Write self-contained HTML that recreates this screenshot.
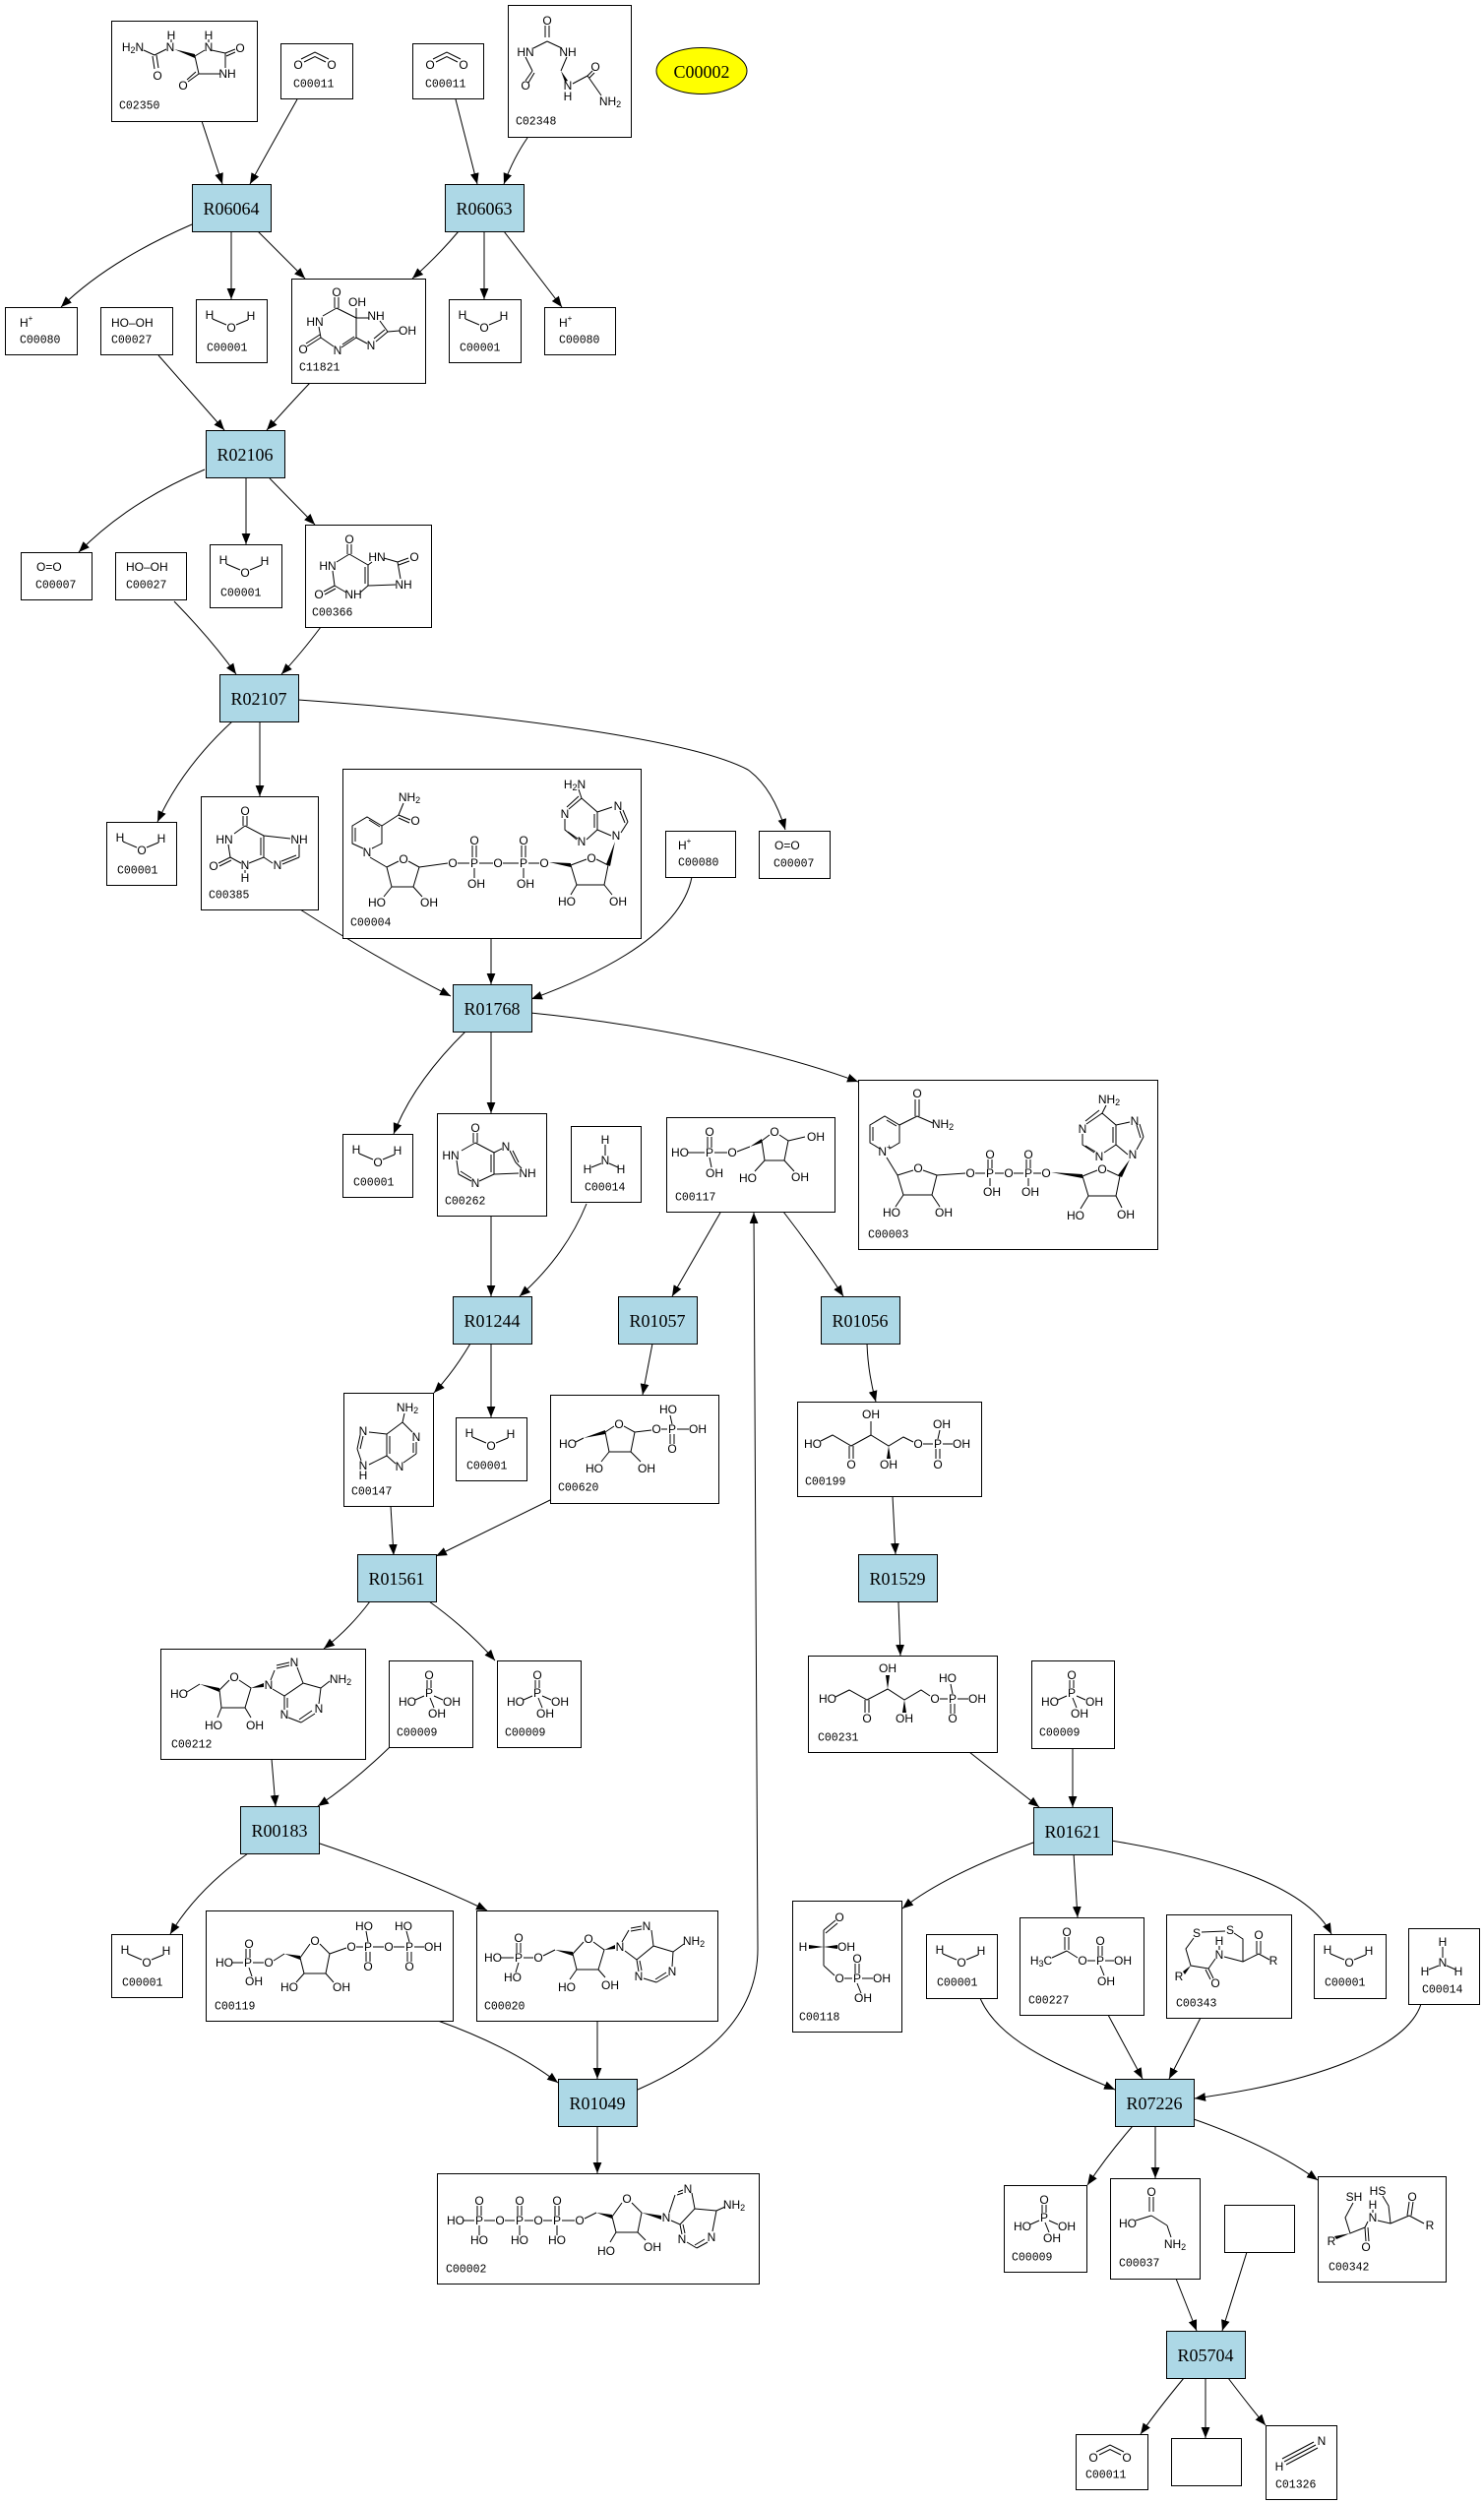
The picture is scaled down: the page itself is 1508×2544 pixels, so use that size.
<!DOCTYPE html>
<html><head><meta charset="utf-8"><style>
html,body{margin:0;padding:0;background:#fff}
svg{display:block}
text{font-family:"Liberation Sans",sans-serif;fill:#000}
.a{font-size:12px;text-anchor:middle;dominant-baseline:central}
.s{font-size:12px;text-anchor:start;dominant-baseline:central}
.l{font-family:"Liberation Mono",monospace;font-size:11.5px;dominant-baseline:central}
.r{font-family:"Liberation Serif",serif;font-size:18px;text-anchor:middle;dominant-baseline:central}
.b{fill:none;stroke:#000;stroke-width:1}
.bx{fill:#fff;stroke:#000;stroke-width:1}
.rx{fill:#add8e6;stroke:#000;stroke-width:1}
.e{fill:none;stroke:#000;stroke-width:1;marker-end:url(#ar)}
polygon{fill:#000}
</style></head><body>
<svg width="1508" height="2544" viewBox="0 0 1508 2544" xmlns="http://www.w3.org/2000/svg">
<defs><marker id="ar" viewBox="0 0 10 10" refX="10" refY="5" markerWidth="11" markerHeight="11" markerUnits="userSpaceOnUse" orient="auto"><path d="M0,1 L10,5 L0,9 z" fill="#000"/></marker></defs>
<rect width="1508" height="2544" fill="#fff"/>

<!-- EDGES -->
<path class="e" d="M205,123 L226,187"/>
<path class="e" d="M302,101 Q280,140 254,187"/>
<path class="e" d="M463,101 L485,187"/>
<path class="e" d="M536,140 Q522,160 512,187"/>
<path class="e" d="M195,228 Q110,265 62,312"/>
<path class="e" d="M235,235 L235,304"/>
<path class="e" d="M262,235 L310,283"/>
<path class="e" d="M466,235 Q445,260 419,283"/>
<path class="e" d="M492,235 L492,304"/>
<path class="e" d="M512,235 L571,312"/>
<path class="e" d="M161,361 Q200,405 228,437"/>
<path class="e" d="M315,389 Q295,410 271,437"/>
<path class="e" d="M208,477 Q130,510 80,561"/>
<path class="e" d="M250,486 L250,553"/>
<path class="e" d="M274,486 L320,533"/>
<path class="e" d="M177,611 Q215,650 240,685"/>
<path class="e" d="M326,637 Q305,665 286,685"/>
<path class="e" d="M236,733 Q185,780 160,835"/>
<path class="e" d="M264,733 L264,809"/>
<path class="e" d="M303,711 C500,725 700,750 760,782 Q785,800 798,843"/>
<path class="e" d="M305,924 Q385,975 458,1012"/>
<path class="e" d="M499,953 L499,1000"/>
<path class="e" d="M703,891 Q690,960 540,1015"/>
<path class="e" d="M473,1048 Q420,1100 400,1152"/>
<path class="e" d="M499,1048 L499,1131"/>
<path class="e" d="M539,1029 C650,1040 780,1065 872,1099"/>
<path class="e" d="M499,1235 L499,1317"/>
<path class="e" d="M596,1223 Q575,1275 528,1317"/>
<path class="e" d="M732,1232 L683,1317"/>
<path class="e" d="M796,1231 Q830,1275 857,1317"/>
<path class="e" d="M648,2123 C700,2100 770,2060 770,1980 L766,1232"/>
<path class="e" d="M478,1365 Q460,1395 441,1415"/>
<path class="e" d="M499,1365 L499,1440"/>
<path class="e" d="M663,1365 L653,1417"/>
<path class="e" d="M397,1530 L400,1580"/>
<path class="e" d="M559,1524 L443,1581"/>
<path class="e" d="M881,1365 Q882,1395 890,1424"/>
<path class="e" d="M907,1520 L910,1579"/>
<path class="e" d="M913,1628 L915,1682"/>
<path class="e" d="M985,1780 L1056,1836"/>
<path class="e" d="M1090,1776 L1090,1836"/>
<path class="e" d="M376,1627 Q355,1655 329,1675"/>
<path class="e" d="M436,1627 Q475,1655 503,1687"/>
<path class="e" d="M276,1787 L280,1835"/>
<path class="e" d="M396,1775 Q360,1810 323,1835"/>
<path class="e" d="M252,1883 Q200,1920 173,1965"/>
<path class="e" d="M325,1873 Q420,1905 495,1941"/>
<path class="e" d="M445,2053 Q520,2080 567,2116"/>
<path class="e" d="M607,2053 L607,2112"/>
<path class="e" d="M607,2160 L607,2208"/>
<path class="e" d="M1050,1872 Q960,1905 917,1939"/>
<path class="e" d="M1091,1883 L1095,1948"/>
<path class="e" d="M1129,1870 C1250,1890 1330,1920 1353,1965"/>
<path class="e" d="M996,2030 C1015,2075 1080,2100 1133,2123"/>
<path class="e" d="M1126,2047 L1161,2112"/>
<path class="e" d="M1220,2050 L1188,2112"/>
<path class="e" d="M1444,2036 C1430,2080 1340,2115 1214,2132"/>
<path class="e" d="M1151,2160 Q1125,2190 1105,2220"/>
<path class="e" d="M1174,2160 L1174,2213"/>
<path class="e" d="M1213,2153 Q1290,2180 1339,2215"/>
<path class="e" d="M1195,2315 L1216,2368"/>
<path class="e" d="M1267,2288 L1242,2368"/>
<path class="e" d="M1203,2416 Q1175,2450 1159,2473"/>
<path class="e" d="M1225,2416 L1225,2477"/>
<path class="e" d="M1248,2416 Q1270,2445 1286,2464"/>

<!-- REACTIONS -->
<g transform="translate(195,187)"><rect class="rx" x="0.5" y="0.5" width="80" height="48"/><text class="r" x="40" y="25">R06064</text></g>
<g transform="translate(452,187)"><rect class="rx" x="0.5" y="0.5" width="80" height="48"/><text class="r" x="40" y="25">R06063</text></g>
<g transform="translate(209,437)"><rect class="rx" x="0.5" y="0.5" width="80" height="48"/><text class="r" x="40" y="25">R02106</text></g>
<g transform="translate(223,685)"><rect class="rx" x="0.5" y="0.5" width="80" height="48"/><text class="r" x="40" y="25">R02107</text></g>
<g transform="translate(460,1000)"><rect class="rx" x="0.5" y="0.5" width="80" height="48"/><text class="r" x="40" y="25">R01768</text></g>
<g transform="translate(460,1317)"><rect class="rx" x="0.5" y="0.5" width="80" height="48"/><text class="r" x="40" y="25">R01244</text></g>
<g transform="translate(628,1317)"><rect class="rx" x="0.5" y="0.5" width="80" height="48"/><text class="r" x="40" y="25">R01057</text></g>
<g transform="translate(834,1317)"><rect class="rx" x="0.5" y="0.5" width="80" height="48"/><text class="r" x="40" y="25">R01056</text></g>
<g transform="translate(363,1579)"><rect class="rx" x="0.5" y="0.5" width="80" height="48"/><text class="r" x="40" y="25">R01561</text></g>
<g transform="translate(872,1579)"><rect class="rx" x="0.5" y="0.5" width="80" height="48"/><text class="r" x="40" y="25">R01529</text></g>
<g transform="translate(244,1835)"><rect class="rx" x="0.5" y="0.5" width="80" height="48"/><text class="r" x="40" y="25">R00183</text></g>
<g transform="translate(1050,1836)"><rect class="rx" x="0.5" y="0.5" width="80" height="48"/><text class="r" x="40" y="25">R01621</text></g>
<g transform="translate(567,2112)"><rect class="rx" x="0.5" y="0.5" width="80" height="48"/><text class="r" x="40" y="25">R01049</text></g>
<g transform="translate(1133,2112)"><rect class="rx" x="0.5" y="0.5" width="80" height="48"/><text class="r" x="40" y="25">R07226</text></g>
<g transform="translate(1185,2368)"><rect class="rx" x="0.5" y="0.5" width="80" height="48"/><text class="r" x="40" y="25">R05704</text></g>

<ellipse cx="713" cy="72" rx="46" ry="23.5" fill="#ffff00" stroke="#000" stroke-width="1"/>
<text class="r" x="713" y="73">C00002</text>

<!-- C02350 -->
<g transform="translate(113,21)"><rect class="bx" x="0.5" y="0.5" width="148" height="102"/>
<text class="a" x="22" y="27">H<tspan font-size="9" dy="3">2</tspan><tspan dy="-3">N</tspan></text>
<text class="a" x="47" y="56">O</text><text class="a" x="60" y="27">N</text><text class="a" x="61" y="15">H</text>
<text class="a" x="99" y="27">N</text><text class="a" x="99" y="15">H</text><text class="a" x="131" y="28">O</text>
<text class="a" x="118" y="54">NH</text><text class="a" x="73" y="66">O</text>
<path class="b" d="M33,30L44,35 M44,35L56,29 M42,36L44,49 M46,35L48,48 M102,30L116,33 M85,36L95,30 M116,33L126,29 M117,36L126,32 M116,33L116,48 M111,54L89,54 M89,54L85,36 M89,54L78,62 M86,52L77,60 M61,19L61,22 M99,19L99,22"/>
<polygon points="64,29 85,34 85,38"/>
<text class="l" x="8" y="87">C02350</text></g>

<!-- C00011 a,b,c -->
<g transform="translate(285,44)"><rect class="bx" x="0.5" y="0.5" width="73" height="56"/>
<text class="a" x="18" y="22">O</text><text class="a" x="52" y="22">O</text>
<path class="b" d="M21,16L35,9L49,16 M24,19L35,13.5L46,19"/>
<text class="l" x="13" y="42">C00011</text></g>
<g transform="translate(419,44)"><rect class="bx" x="0.5" y="0.5" width="72" height="56"/>
<text class="a" x="18" y="22">O</text><text class="a" x="52" y="22">O</text>
<path class="b" d="M21,16L35,9L49,16 M24,19L35,13.5L46,19"/>
<text class="l" x="13" y="42">C00011</text></g>
<g transform="translate(1093,2473)"><rect class="bx" x="0.5" y="0.5" width="73" height="56"/>
<text class="a" x="18" y="24">O</text><text class="a" x="52" y="24">O</text>
<path class="b" d="M21,18L35,11L49,18 M24,21L35,15.5L46,21"/>
<text class="l" x="10" y="42">C00011</text></g>

<!-- C02348 -->
<g transform="translate(516,5)"><rect class="bx" x="0.5" y="0.5" width="125" height="134"/>
<text class="a" x="40" y="16">O</text><text class="a" x="18" y="48">HN</text><text class="a" x="61" y="48">NH</text>
<text class="a" x="18" y="82">O</text><text class="a" x="61" y="82">N</text><text class="a" x="61" y="93">H</text>
<text class="a" x="89" y="63">O</text><text class="a" x="104" y="98">NH<tspan font-size="9" dy="3">2</tspan></text>
<path class="b" d="M38,21L38,33 M42,21L42,33 M40,37L26,44 M40,37L55,44 M18,53L25,67 M25,67L18,77 M27,69L21,79 M60,53L54,67 M66,80L81,72 M81,72L86,67 M83,74L88,69 M81,72L95,92"/>
<polygon points="54,67 58,78 61,77"/>
<text class="l" x="8" y="119">C02348</text></g>

<!-- H+ boxes -->
<g transform="translate(5,312)"><rect class="bx" x="0.5" y="0.5" width="73" height="48"/>
<text class="s" x="15" y="16">H<tspan font-size="8" dy="-5">+</tspan></text><text class="l" x="15" y="34">C00080</text></g>
<g transform="translate(553,312)"><rect class="bx" x="0.5" y="0.5" width="72" height="48"/>
<text class="s" x="15" y="16">H<tspan font-size="8" dy="-5">+</tspan></text><text class="l" x="15" y="34">C00080</text></g>
<g transform="translate(676,844)"><rect class="bx" x="0.5" y="0.5" width="71" height="47"/>
<text class="s" x="13" y="15">H<tspan font-size="8" dy="-5">+</tspan></text><text class="l" x="13" y="33">C00080</text></g>

<!-- HO-OH -->
<g transform="translate(102,312)"><rect class="bx" x="0.5" y="0.5" width="73" height="48"/>
<text class="s" x="11" y="16">HO–OH</text><text class="l" x="11" y="34">C00027</text></g>
<g transform="translate(117,561)"><rect class="bx" x="0.5" y="0.5" width="72" height="48"/>
<text class="s" x="11" y="15">HO–OH</text><text class="l" x="11" y="34">C00027</text></g>

<!-- O=O -->
<g transform="translate(21,561)"><rect class="bx" x="0.5" y="0.5" width="72" height="48"/>
<text class="s" x="16" y="15">O=O</text><text class="l" x="15" y="34">C00007</text></g>
<g transform="translate(771,844)"><rect class="bx" x="0.5" y="0.5" width="72" height="48"/>
<text class="s" x="16" y="15">O=O</text><text class="l" x="15" y="34">C00007</text></g>

<!-- Water boxes -->
<g transform="translate(199,304)"><rect class="bx" x="0.5" y="0.5" width="72" height="64"/><text class="a" x="14" y="16">H</text><text class="a" x="36" y="29">O</text><text class="a" x="56" y="17">H</text><path class="b" d="M17,20L31,26 M41,26L53,21"/><text class="l" x="11" y="50">C00001</text></g>
<g transform="translate(456,304)"><rect class="bx" x="0.5" y="0.5" width="73" height="64"/><text class="a" x="14" y="16">H</text><text class="a" x="36" y="29">O</text><text class="a" x="56" y="17">H</text><path class="b" d="M17,20L31,26 M41,26L53,21"/><text class="l" x="11" y="50">C00001</text></g>
<g transform="translate(213,553)"><rect class="bx" x="0.5" y="0.5" width="73" height="64"/><text class="a" x="14" y="16">H</text><text class="a" x="36" y="29">O</text><text class="a" x="56" y="17">H</text><path class="b" d="M17,20L31,26 M41,26L53,21"/><text class="l" x="11" y="50">C00001</text></g>
<g transform="translate(108,835)"><rect class="bx" x="0.5" y="0.5" width="71" height="64"/><text class="a" x="14" y="16">H</text><text class="a" x="36" y="29">O</text><text class="a" x="56" y="17">H</text><path class="b" d="M17,20L31,26 M41,26L53,21"/><text class="l" x="11" y="50">C00001</text></g>
<g transform="translate(348,1152)"><rect class="bx" x="0.5" y="0.5" width="71" height="64"/><text class="a" x="14" y="16">H</text><text class="a" x="36" y="29">O</text><text class="a" x="56" y="17">H</text><path class="b" d="M17,20L31,26 M41,26L53,21"/><text class="l" x="11" y="50">C00001</text></g>
<g transform="translate(463,1440)"><rect class="bx" x="0.5" y="0.5" width="72" height="64"/><text class="a" x="14" y="16">H</text><text class="a" x="36" y="29">O</text><text class="a" x="56" y="17">H</text><path class="b" d="M17,20L31,26 M41,26L53,21"/><text class="l" x="11" y="50">C00001</text></g>
<g transform="translate(113,1965)"><rect class="bx" x="0.5" y="0.5" width="72" height="64"/><text class="a" x="14" y="16">H</text><text class="a" x="36" y="29">O</text><text class="a" x="56" y="17">H</text><path class="b" d="M17,20L31,26 M41,26L53,21"/><text class="l" x="11" y="50">C00001</text></g>
<g transform="translate(941,1965)"><rect class="bx" x="0.5" y="0.5" width="72" height="65"/><text class="a" x="14" y="16">H</text><text class="a" x="36" y="29">O</text><text class="a" x="56" y="17">H</text><path class="b" d="M17,20L31,26 M41,26L53,21"/><text class="l" x="11" y="50">C00001</text></g>
<g transform="translate(1335,1965)"><rect class="bx" x="0.5" y="0.5" width="73" height="65"/><text class="a" x="14" y="16">H</text><text class="a" x="36" y="29">O</text><text class="a" x="56" y="17">H</text><path class="b" d="M17,20L31,26 M41,26L53,21"/><text class="l" x="11" y="50">C00001</text></g>

<!-- NH3 -->
<g transform="translate(580,1144)"><rect class="bx" x="0.5" y="0.5" width="71" height="77"/>
<text class="a" x="35" y="14">H</text><text class="a" x="35" y="35">N</text><text class="a" x="17" y="44">H</text><text class="a" x="51" y="44">H</text>
<path class="b" d="M35,19L35,30 M31,38L21,42 M39,38L48,42"/><text class="l" x="14" y="63">C00014</text></g>
<g transform="translate(1431,1959)"><rect class="bx" x="0.5" y="0.5" width="72" height="77"/>
<text class="a" x="35" y="14">H</text><text class="a" x="35" y="35">N</text><text class="a" x="17" y="44">H</text><text class="a" x="51" y="44">H</text>
<path class="b" d="M35,19L35,30 M31,38L21,42 M39,38L48,42"/><text class="l" x="14" y="63">C00014</text></g>

<!-- Phosphate boxes -->
<g transform="translate(1048,1687)"><rect class="bx" x="0.5" y="0.5" width="84" height="89"/>
<text class="a" x="41" y="15">O</text><text class="a" x="41" y="33">P</text><text class="a" x="19" y="42">HO</text><text class="a" x="64" y="42">OH</text><text class="a" x="49" y="54">OH</text>
<path class="b" d="M39,20L39,28 M43,20L43,28 M36,36L27,40 M46,36L55,40 M42,38L46,48"/><text class="l" x="8" y="74">C00009</text></g>
<g transform="translate(395,1687)"><rect class="bx" x="0.5" y="0.5" width="85" height="88"/>
<text class="a" x="41" y="15">O</text><text class="a" x="41" y="33">P</text><text class="a" x="19" y="42">HO</text><text class="a" x="64" y="42">OH</text><text class="a" x="49" y="54">OH</text>
<path class="b" d="M39,20L39,28 M43,20L43,28 M36,36L27,40 M46,36L55,40 M42,38L46,48"/><text class="l" x="8" y="74">C00009</text></g>
<g transform="translate(505,1687)"><rect class="bx" x="0.5" y="0.5" width="85" height="88"/>
<text class="a" x="41" y="15">O</text><text class="a" x="41" y="33">P</text><text class="a" x="19" y="42">HO</text><text class="a" x="64" y="42">OH</text><text class="a" x="49" y="54">OH</text>
<path class="b" d="M39,20L39,28 M43,20L43,28 M36,36L27,40 M46,36L55,40 M42,38L46,48"/><text class="l" x="8" y="74">C00009</text></g>
<g transform="translate(1020,2220)"><rect class="bx" x="0.5" y="0.5" width="84" height="88"/>
<text class="a" x="41" y="15">O</text><text class="a" x="41" y="33">P</text><text class="a" x="19" y="42">HO</text><text class="a" x="64" y="42">OH</text><text class="a" x="49" y="54">OH</text>
<path class="b" d="M39,20L39,28 M43,20L43,28 M36,36L27,40 M46,36L55,40 M42,38L46,48"/><text class="l" x="8" y="74">C00009</text></g>

<!-- C11821 -->
<g transform="translate(296,283)"><rect class="bx" x="0.5" y="0.5" width="136" height="106"/>
<text class="a" x="46" y="14">O</text><text class="a" x="67" y="24">OH</text><text class="a" x="24" y="44">HN</text><text class="a" x="86" y="38">NH</text>
<text class="a" x="118" y="53">OH</text><text class="a" x="12" y="72">O</text><text class="a" x="47" y="73">N</text><text class="a" x="81" y="68">N</text>
<path class="b" d="M44,19L44,30 M48,19L48,30 M46,30L32,38 M28,49L30,60 M30,60L16,69 M29,57L15,66 M30,60L43,69 M51,70L66,60 M52,67L64,59 M66,60L66,40 M66,40L46,30 M66,40L66,30 M66,40L79,40 M90,43L98,54 M98,54L110,53 M98,54L86,64 M95,52L84,61 M77,66L66,60"/>
<text class="l" x="8" y="91">C11821</text></g>

<!-- C00366 -->
<g transform="translate(310,533)"><rect class="bx" x="0.5" y="0.5" width="128" height="104"/>
<text class="a" x="45" y="15">O</text><text class="a" x="23" y="42">HN</text><text class="a" x="73" y="33">HN</text><text class="a" x="111" y="33">O</text>
<text class="a" x="100" y="61">NH</text><text class="a" x="49" y="71">NH</text><text class="a" x="14" y="71">O</text>
<path class="b" d="M43,20L43,30 M47,20L47,30 M45,30L32,38 M28,47L30,62 M30,62L19,68 M31,65L20,71 M30,62L42,69 M64,62L56,69 M64,62L64,41 M61,60L61,43 M64,41L45,30 M64,41L68,38 M80,34L94,38 M94,38L105,34 M95,41L106,37 M94,38L97,55 M92,61L64,62"/>
<text class="l" x="7" y="90">C00366</text></g>

<!-- C00385 -->
<g transform="translate(204,809)"><rect class="bx" x="0.5" y="0.5" width="119" height="115"/>
<text class="a" x="45" y="15">O</text><text class="a" x="24" y="44">HN</text><text class="a" x="100" y="44">NH</text><text class="a" x="13" y="71">O</text>
<text class="a" x="45" y="70">N</text><text class="a" x="45" y="83">H</text><text class="a" x="78" y="70">N</text>
<path class="b" d="M43,20L43,30 M47,20L47,30 M45,30L34,38 M28,49L30,62 M30,62L18,68 M31,65L19,71 M30,62L41,68 M49,68L64,62 M64,62L64,40 M61,60L61,42 M64,40L45,30 M64,40L91,43 M100,49L100,62 M100,62L83,69 M97,60L82,66 M73,68L64,62 M45,75L45,78"/>
<text class="l" x="8" y="101">C00385</text></g>

<!-- C00004 NADH -->
<g transform="translate(348,781)"><rect class="bx" x="0.5" y="0.5" width="303" height="172"/>
<text class="a" x="68" y="29">NH<tspan font-size="9" dy="3">2</tspan></text><text class="a" x="74" y="53">O</text><text class="a" x="25" y="85">N</text>
<text class="a" x="62" y="92">O</text><text class="a" x="35" y="136">HO</text><text class="a" x="88" y="136">OH</text>
<text class="a" x="112" y="96">O</text><text class="a" x="134" y="96">P</text><text class="a" x="158" y="96">O</text><text class="a" x="184" y="96">P</text><text class="a" x="205" y="96">O</text>
<text class="a" x="134" y="73">O</text><text class="a" x="184" y="73">O</text><text class="a" x="136" y="117">OH</text><text class="a" x="186" y="117">OH</text>
<text class="a" x="236" y="16">H<tspan font-size="9" dy="3">2</tspan><tspan dy="-3">N</tspan></text>
<text class="a" x="226" y="46">N</text><text class="a" x="243" y="74">N</text><text class="a" x="280" y="38">N</text><text class="a" x="278" y="68">N</text>
<text class="a" x="253" y="91">O</text><text class="a" x="228" y="135">HO</text><text class="a" x="280" y="135">OH</text>
<path class="b" d="M21,81L10,76 L10,58 L25,49 L40,58 L40,76 L30,81 M13,60L13,74 M27,52L38,59 M40,58L57,47 M57,47L62,35 M57,47L69,52 M57,50L68,55 M28,90L45,100 M45,100L57,94 M67,94L78,100 M78,100L72,120 L50,120 L45,100 M50,120L42,130 M72,120L81,130 M78,100L107,96 M117,96L129,96 M139,96L153,96 M163,96L179,96 M189,96L200,96 M132,78L132,90 M136,78L136,90 M182,78L182,90 M186,78L186,90 M134,101L134,111 M184,101L184,111 M232,98L248,92 M258,92L270,98 L266,118 L238,118 L232,98 M238,118L232,128 M266,118L274,128 M243,30L240,21 M243,30L230,41 M240,28L228,39 M226,51L226,62 L238,72 M229,64L239,71 M248,72L259,62 L259,44 L243,30 M256,60L256,46 M259,44L274,39 M285,42L290,54 M282,43L287,55 M290,54L283,65 M273,68L259,62"/>
<polygon points="210,95 232,96 232,100"/><polygon points="268,97 272,99 277,74"/>
<text class="l" x="8" y="157">C00004</text></g>

<!-- C00003 NAD+ -->
<g transform="translate(872,1097)"><rect class="bx" x="0.5" y="0.5" width="304" height="172"/>
<text class="a" x="60" y="14">O</text><text class="a" x="86" y="45">NH<tspan font-size="9" dy="3">2</tspan></text>
<text class="a" x="27" y="73">N<tspan font-size="8" dy="-5">+</tspan></text>
<text class="a" x="61" y="90">O</text><text class="a" x="34" y="135">HO</text><text class="a" x="87" y="135">OH</text>
<text class="a" x="114" y="95">O</text><text class="a" x="134" y="95">P</text><text class="a" x="153" y="95">O</text><text class="a" x="173" y="95">P</text><text class="a" x="191" y="95">O</text>
<text class="a" x="134" y="76">O</text><text class="a" x="173" y="76">O</text><text class="a" x="136" y="114">OH</text><text class="a" x="175" y="114">OH</text>
<text class="a" x="255" y="20">NH<tspan font-size="9" dy="3">2</tspan></text>
<text class="a" x="228" y="50">N</text><text class="a" x="245" y="78">N</text><text class="a" x="281" y="42">N</text><text class="a" x="279" y="76">N</text>
<text class="a" x="248" y="91">O</text><text class="a" x="221" y="138">HO</text><text class="a" x="272" y="137">OH</text>
<path class="b" d="M22,70L12,64 L12,46 L27,37 L42,46 L42,64 L32,70 M15,48L15,62 M29,41L39,47 M42,46L60,37 M58,37L58,20 M62,37L62,20 M60,37L76,44 M29,79L40,97 M40,97L56,92 M66,92L80,97 L75,117 L46,117 L40,97 M46,117L38,129 M75,117L83,129 M80,97L109,95 M119,95L129,95 M139,95L148,95 M158,95L168,95 M178,95L186,95 M132,81L132,90 M136,81L136,90 M171,81L171,90 M175,81L175,90 M134,100L134,108 M173,100L173,108 M228,98L243,92 M253,92L266,98 L262,118 L234,118 L228,98 M234,118L226,131 M262,118L268,130 M248,34L252,26 M248,34L232,45 M245,31L231,42 M228,55L228,66 L240,74 M231,67L241,73 M250,74L262,66 L262,46 L248,34 M259,64L259,48 M262,46L276,43 M286,45L290,58 M283,46L287,59 M290,58L283,71 M274,76L262,66"/>
<polygon points="196,94 228,96 228,100"/><polygon points="264,97 268,99 276,81"/>
<text class="l" x="10" y="158">C00003</text></g>

<!-- C00117 -->
<g transform="translate(677,1135)"><rect class="bx" x="0.5" y="0.5" width="171" height="96"/>
<text class="a" x="44" y="15">O</text><text class="a" x="14" y="36">HO</text><text class="a" x="44" y="36">P</text><text class="a" x="67" y="36">O</text><text class="a" x="49" y="57">OH</text>
<text class="a" x="110" y="15">O</text><text class="a" x="152" y="20">OH</text><text class="a" x="83" y="62">HO</text><text class="a" x="136" y="61">OH</text>
<path class="b" d="M42,20L42,31 M46,20L46,31 M22,36L39,36 M49,36L62,36 M44,41L46,51 M72,35L85,30 M97,24L105,18 M115,18L124,24 L120,44 L100,44 L97,24 M124,24L141,20 M100,44L90,55 M120,44L130,55"/>
<polygon points="85,30 97,22 97,26"/>
<text class="l" x="9" y="82">C00117</text></g>

<!-- C00262 -->
<g transform="translate(444,1131)"><rect class="bx" x="0.5" y="0.5" width="111" height="104"/>
<text class="a" x="39" y="15">O</text><text class="a" x="14" y="43">HN</text><text class="a" x="70" y="34">N</text><text class="a" x="92" y="61">NH</text><text class="a" x="39" y="71">N</text>
<path class="b" d="M37,20L37,30 M41,20L41,30 M39,30L25,38 M20,48L22,62 M22,62L35,69 M24,59L35,66 M43,69L58,62 M58,62L58,40 M55,60L55,42 M58,40L39,30 M58,40L66,36 M74,38L80,50 M77,38L83,50 M80,50L86,56 M83,61L58,62"/>
<text class="l" x="8" y="90">C00262</text></g>

<!-- C00147 -->
<g transform="translate(349,1415)"><rect class="bx" x="0.5" y="0.5" width="91" height="115"/>
<text class="a" x="65" y="15">NH<tspan font-size="9" dy="3">2</tspan></text><text class="a" x="20" y="39">N</text><text class="a" x="74" y="45">N</text>
<text class="a" x="20" y="74">N</text><text class="a" x="20" y="84">H</text><text class="a" x="57" y="75">N</text>
<path class="b" d="M60,30L62,21 M60,30L70,40 M74,50L74,62 M71,51L71,61 M74,62L61,71 M53,72L44,64 M44,64L44,42 M47,62L47,44 M44,42L60,30 M44,42L26,40 M17,43L14,57 M20,44L17,57 M14,57L18,69 M26,73L44,64"/>
<text class="l" x="8" y="101">C00147</text></g>

<!-- C00620 -->
<g transform="translate(559,1417)"><rect class="bx" x="0.5" y="0.5" width="171" height="110"/>
<text class="a" x="18" y="50">HO</text><text class="a" x="70" y="30">O</text><text class="a" x="45" y="75">HO</text><text class="a" x="98" y="75">OH</text>
<text class="a" x="108" y="35">O</text><text class="a" x="124" y="35">P</text><text class="a" x="150" y="35">OH</text><text class="a" x="120" y="15">HO</text><text class="a" x="124" y="55">O</text>
<path class="b" d="M26,48L34,44 M56,38L65,32 M75,32L86,38 L82,58 L60,58 L56,38 M60,58L52,68 M82,58L92,68 M86,38L103,36 M113,35L119,35 M129,35L141,35 M124,30L122,21 M122,40L122,50 M126,40L126,50"/>
<polygon points="34,44 56,36 56,40"/>
<text class="l" x="8" y="95">C00620</text></g>

<!-- C00199 -->
<g transform="translate(810,1424)"><rect class="bx" x="0.5" y="0.5" width="187" height="96"/>
<text class="a" x="16" y="43">HO</text><text class="a" x="75" y="13">OH</text><text class="a" x="55" y="64">O</text><text class="a" x="93" y="64">OH</text>
<text class="a" x="123" y="43">O</text><text class="a" x="143" y="43">P</text><text class="a" x="167" y="43">OH</text><text class="a" x="147" y="23">OH</text><text class="a" x="143" y="64">O</text>
<path class="b" d="M24,40L36,34 L55,45 L75,34 L93,45 L108,36 L118,41 M53,45L53,58 M57,45L57,58 M75,34L75,20 M128,43L138,43 M148,43L158,43 M143,38L145,29 M141,48L141,58 M145,48L145,58"/>
<polygon points="93,45 91,58 95,58"/>
<text class="l" x="8" y="82">C00199</text></g>

<!-- C00231 -->
<g transform="translate(821,1682)"><rect class="bx" x="0.5" y="0.5" width="192" height="98"/>
<text class="a" x="20" y="44">HO</text><text class="a" x="81" y="13">OH</text><text class="a" x="60" y="64">O</text><text class="a" x="98" y="64">OH</text>
<text class="a" x="142" y="23">HO</text><text class="a" x="129" y="44">O</text><text class="a" x="147" y="44">P</text><text class="a" x="172" y="44">OH</text><text class="a" x="147" y="64">O</text>
<path class="b" d="M28,42L42,35 L60,45 L81,34 L98,45 L115,35 L124,41 M58,45L58,58 M62,45L62,58 M134,44L142,44 M152,44L163,44 M147,39L145,29 M145,49L145,59 M149,49L149,59"/>
<polygon points="81,34 79,20 83,20"/><polygon points="98,45 96,58 100,58"/>
<text class="l" x="10" y="84">C00231</text></g>

<!-- C00212 -->
<g transform="translate(163,1675)"><rect class="bx" x="0.5" y="0.5" width="208" height="112"/>
<text class="a" x="19" y="46">HO</text><text class="a" x="75" y="29">O</text><text class="a" x="54" y="78">HO</text><text class="a" x="96" y="78">OH</text>
<text class="a" x="110" y="37">N</text><text class="a" x="136" y="14">N</text><text class="a" x="183" y="31">NH<tspan font-size="9" dy="3">2</tspan></text>
<text class="a" x="161" y="61">N</text><text class="a" x="126" y="67">N</text>
<path class="b" d="M27,44L40,36 M60,42L70,32 M80,32L92,40 L86,60 L62,60 L60,42 M62,60L58,70 M86,60L92,70 M112,32L116,22 M118,17L131,14 M118,20L131,17 M139,19L145,35 L126,48 L114,41 M145,35L163,40 M163,40L172,33 M163,40L161,56 M157,66L143,75 M154,63L141,72 M143,75L130,70 M126,62L126,48 M129,60L129,50"/>
<polygon points="40,36 60,40 60,44"/><polygon points="92,40 105,35 105,39"/>
<text class="l" x="11" y="98">C00212</text></g>

<!-- C00119 -->
<g transform="translate(209,1941)"><rect class="bx" x="0.5" y="0.5" width="251" height="112"/>
<text class="a" x="44" y="34">O</text><text class="a" x="19" y="53">HO</text><text class="a" x="43" y="53">P</text><text class="a" x="64" y="53">O</text><text class="a" x="49" y="72">OH</text>
<text class="a" x="111" y="31">O</text><text class="a" x="85" y="78">HO</text><text class="a" x="138" y="78">OH</text>
<text class="a" x="148" y="37">O</text><text class="a" x="165" y="37">P</text><text class="a" x="186" y="37">O</text><text class="a" x="207" y="37">P</text><text class="a" x="231" y="37">OH</text>
<text class="a" x="161" y="16">HO</text><text class="a" x="201" y="16">HO</text><text class="a" x="165" y="57">O</text><text class="a" x="207" y="57">O</text>
<path class="b" d="M41,39L41,48 M45,39L45,48 M27,53L38,53 M48,53L59,53 M44,58L47,67 M69,51L80,44 M96,48L106,34 M116,34L126,44 L122,64 L100,64 L96,48 M100,64L92,73 M122,64L130,73 M126,44L143,38 M153,37L160,37 M170,37L181,37 M191,37L202,37 M212,37L222,37 M165,32L163,21 M207,32L204,21 M163,42L163,52 M167,42L167,52 M205,42L205,52 M209,42L209,52"/>
<polygon points="80,44 96,46 96,50"/>
<text class="l" x="9" y="98">C00119</text></g>

<!-- C00020 -->
<g transform="translate(484,1941)"><rect class="bx" x="0.5" y="0.5" width="245" height="112"/>
<text class="a" x="43" y="28">O</text><text class="a" x="17" y="48">HO</text><text class="a" x="43" y="48">P</text><text class="a" x="63" y="48">O</text><text class="a" x="37" y="68">HO</text>
<text class="a" x="114" y="29">O</text><text class="a" x="92" y="78">HO</text><text class="a" x="136" y="76">OH</text>
<text class="a" x="146" y="37">N</text><text class="a" x="173" y="16">N</text><text class="a" x="221" y="31">NH<tspan font-size="9" dy="3">2</tspan></text>
<text class="a" x="199" y="62">N</text><text class="a" x="165" y="67">N</text>
<path class="b" d="M41,33L41,43 M45,33L45,43 M25,48L38,48 M48,48L58,48 M43,53L40,63 M68,46L80,40 M98,44L109,32 M119,32L130,40 L124,60 L102,60 L98,44 M102,60L95,70 M124,60L131,68 M148,32L155,20 M157,18L168,16 M157,21L168,19 M178,20L180,36 L163,50 L151,41 M180,36L200,42 M200,42L211,34 M200,42L199,57 M195,66L183,73 M193,63L182,70 M183,73L170,69 M165,62L163,50 M168,61L166,51"/>
<polygon points="80,40 98,42 98,46"/><polygon points="130,40 141,35 141,39"/>
<text class="l" x="8" y="98">C00020</text></g>

<!-- C00002 ATP -->
<g transform="translate(444,2208)"><rect class="bx" x="0.5" y="0.5" width="327" height="112"/>
<text class="a" x="19" y="48">HO</text><text class="a" x="43" y="48">P</text><text class="a" x="64" y="48">O</text><text class="a" x="84" y="48">P</text><text class="a" x="103" y="48">O</text><text class="a" x="122" y="48">P</text><text class="a" x="145" y="48">O</text>
<text class="a" x="43" y="28">O</text><text class="a" x="84" y="28">O</text><text class="a" x="122" y="28">O</text>
<text class="a" x="43" y="68">HO</text><text class="a" x="84" y="68">HO</text><text class="a" x="122" y="68">HO</text>
<text class="a" x="193" y="26">O</text><text class="a" x="172" y="79">HO</text><text class="a" x="219" y="75">OH</text>
<text class="a" x="233" y="45">N</text><text class="a" x="255" y="16">N</text><text class="a" x="302" y="32">NH<tspan font-size="9" dy="3">2</tspan></text>
<text class="a" x="279" y="65">N</text><text class="a" x="249" y="67">N</text>
<path class="b" d="M27,48L38,48 M48,48L59,48 M69,48L79,48 M89,48L98,48 M108,48L117,48 M127,48L140,48 M41,33L41,43 M45,33L45,43 M82,33L82,43 M86,33L86,43 M120,33L120,43 M124,33L124,43 M43,53L43,63 M84,53L84,63 M122,53L122,63 M150,46L162,40 M178,44L188,30 M198,30L208,40 L204,60 L182,60 L178,44 M182,60L176,70 M204,60L212,68 M236,40L242,22 M245,19L250,17 M244,22L250,20 M259,20L262,36 L247,52 L238,48 M262,36L284,38 M284,38L293,34 M284,38L280,59 M275,70L264,76 M272,67L262,73 M264,76L254,70 M249,62L247,52 M252,61L250,52"/>
<polygon points="162,40 178,42 178,46"/><polygon points="208,40 228,43 228,47"/>
<text class="l" x="9" y="98">C00002</text></g>

<!-- C00118 -->
<g transform="translate(805,1931)"><rect class="bx" x="0.5" y="0.5" width="111" height="133"/>
<text class="a" x="48" y="17">O</text><text class="a" x="11" y="47">H</text><text class="a" x="55" y="47">OH</text>
<text class="a" x="48" y="79">O</text><text class="a" x="66" y="79">P</text><text class="a" x="91" y="79">OH</text><text class="a" x="66" y="59">O</text><text class="a" x="72" y="99">OH</text>
<path class="b" d="M32,30L44,20 M34,33L46,23 M32,30L32,66 M32,66L43,76 M53,79L61,79 M71,79L82,79 M64,64L64,74 M68,64L68,74 M66,84L70,94"/>
<polygon points="32,47 17,45 17,49"/><polygon points="32,47 46,45 46,49"/>
<text class="l" x="7" y="119">C00118</text></g>

<!-- C00227 -->
<g transform="translate(1036,1948)"><rect class="bx" x="0.5" y="0.5" width="126" height="99"/>
<text class="a" x="48" y="15">O</text><text class="a" x="22" y="44">H<tspan font-size="9" dy="3">3</tspan><tspan dy="-3">C</tspan></text>
<text class="a" x="64" y="44">O</text><text class="a" x="82" y="44">P</text><text class="a" x="105" y="44">OH</text><text class="a" x="82" y="24">O</text><text class="a" x="88" y="65">OH</text>
<path class="b" d="M46,20L46,33 M50,20L50,33 M33,41L48,34 M48,34L59,41 M69,44L77,44 M87,44L96,44 M80,29L80,39 M84,29L84,39 M82,49L86,59"/>
<text class="l" x="9" y="85">C00227</text></g>

<!-- C00343 -->
<g transform="translate(1185,1945)"><rect class="bx" x="0.5" y="0.5" width="127" height="105"/>
<text class="a" x="31" y="19">S</text><text class="a" x="65" y="16">S</text><text class="a" x="94" y="21">O</text><text class="a" x="54" y="27">H</text><text class="a" x="54" y="41">N</text>
<text class="a" x="109" y="47">R</text><text class="a" x="13" y="63">R</text><text class="a" x="50" y="70">O</text>
<path class="b" d="M36,18L60,17 M28,24L20,35 L25,52 L43,55 M43,55L48,65 M40,56L45,66 M43,55L50,45 M59,43L78,48 M78,48L78,25 L69,19 M78,48L94,40 M92,40L92,27 M96,40L96,27 M94,40L105,46 M54,32L54,36"/>
<polygon points="25,52 17,58 19,61"/>
<text class="l" x="10" y="91">C00343</text></g>

<!-- C00342 -->
<g transform="translate(1339,2211)"><rect class="bx" x="0.5" y="0.5" width="130" height="107"/>
<text class="a" x="37" y="21">SH</text><text class="a" x="61" y="15">HS</text><text class="a" x="96" y="21">O</text><text class="a" x="56" y="29">H</text><text class="a" x="56" y="42">N</text>
<text class="a" x="114" y="50">R</text><text class="a" x="14" y="66">R</text><text class="a" x="49" y="72">O</text>
<path class="b" d="M36,27L28,42 L33,58 L48,52 M48,52L49,66 M51,52L52,66 M48,52L51,46 M61,45L74,48 M74,48L72,30 L66,20 M74,48L93,40 M91,40L93,26 M95,40L97,26 M93,40L108,48 M56,34L56,37"/>
<polygon points="33,58 17,61 19,64"/>
<text class="l" x="11" y="93">C00342</text></g>

<!-- C00037 -->
<g transform="translate(1128,2213)"><rect class="bx" x="0.5" y="0.5" width="91" height="102"/>
<text class="a" x="42" y="14">O</text><text class="a" x="18" y="46">HO</text><text class="a" x="66" y="67">NH<tspan font-size="9" dy="3">2</tspan></text>
<path class="b" d="M40,19L40,34 M44,19L44,34 M26,43L42,38 M42,38L58,48 M58,48L62,60"/>
<text class="l" x="9" y="87">C00037</text></g>

<!-- blanks -->
<rect class="bx" x="1244.5" y="2240.5" width="71" height="48"/>
<rect class="bx" x="1190.5" y="2477.5" width="71" height="48"/>

<!-- C01326 -->
<g transform="translate(1286,2464)"><rect class="bx" x="0.5" y="0.5" width="72" height="75"/>
<text class="a" x="14" y="42">H</text><text class="a" x="57" y="16">N</text>
<path class="b" d="M19,37L51,20 M17,34L49,17 M21,40L53,23"/>
<text class="l" x="10" y="61">C01326</text></g>

</svg>
</body></html>
